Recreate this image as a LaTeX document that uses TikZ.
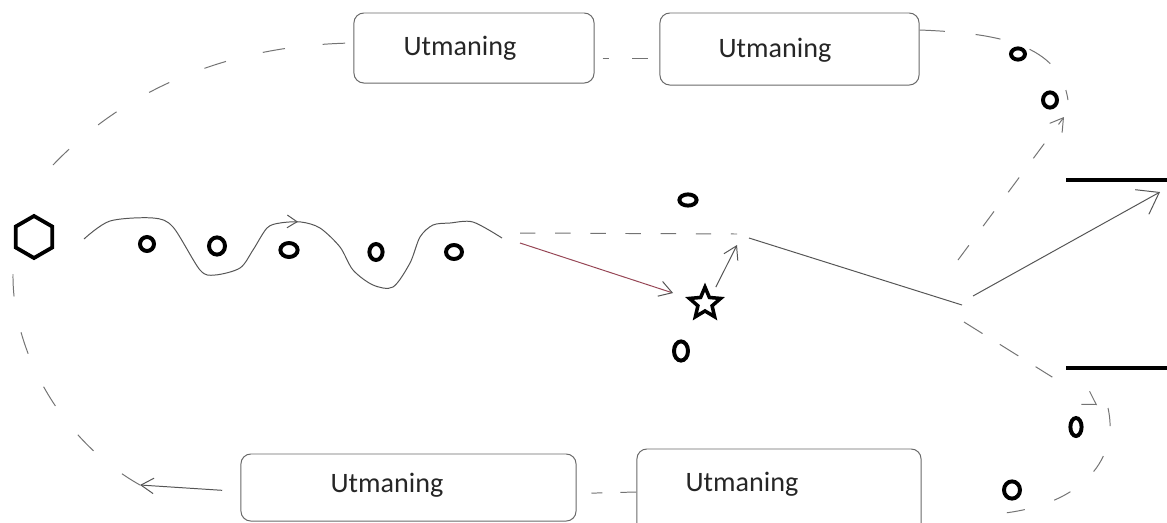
\documentclass[tikz,border=0pt]{standalone}
\usepackage{fontspec}
\setmainfont{Carlito}
\usepackage{tikz}
\usetikzlibrary{arrows.meta, shapes.geometric, calc, decorations.markings}
\definecolor{pathgray}{RGB}{85,85,85}
\definecolor{dashgray}{RGB}{115,115,115}
\definecolor{boxgray}{RGB}{105,105,105}
\definecolor{redline}{RGB}{150,70,85}

\begin{document}
\begin{tikzpicture}[
    x=0.025cm, y=-0.025cm,
    box/.style={draw=boxgray, line width=0.7pt, rounded corners=7pt, inner sep=0pt},
    boxtext/.style={font=\fontsize{20}{24}\selectfont, text=black!85, inner sep=0pt},
    ring/.style={draw, ellipse, line width=2.8pt, inner sep=0pt},
    connector/.style={draw=pathgray, line width=0.7pt},
    dashline/.style={draw=dashgray, line width=0.7pt, dash pattern=on 16pt off 27pt},
    barb/.style={-{Straight Barb[length=9pt, width=11pt]}},
    wall/.style={line width=2.8pt}
]
    \useasboundingbox (0,0) rectangle (1167,522);
    \clip (0,0) rectangle (1167,522);
    \fill[white] (0,0) rectangle (1167,522);

    % Challenge boxes
    \node[box, minimum width=6cm, minimum height=1.75cm] (b1) at (474,48) {};
    \node[box, minimum width=6.475cm, minimum height=1.8cm] (b2) at (789.5,49) {};
    \node[box, minimum width=8.375cm, minimum height=1.675cm] (b3) at (408.5,487.5) {};
    \node[box, minimum width=7.1cm, minimum height=2.15cm] (b4) at (779,492) {};
    \node[boxtext] (t1) at (460,48) {Utmaning};
    \node[boxtext] (t2) at (775,50) {Utmaning};
    \node[boxtext] (t3) at (387,485) {Utmaning};
    \node[boxtext] (t4) at (742,484) {Utmaning};

    % Start and goal
    \node[draw, regular polygon, regular polygon sides=6, shape border rotate=30,
          minimum size=1.05cm, inner sep=0pt, line width=2.7pt] (hex) at (34,237) {};
    \node[draw, star, star points=5, star point ratio=2.2, minimum size=0.82cm,
          inner sep=0pt, line width=2.5pt] (goal) at (705,303.5) {};

    % Small rings
    \node[ring, minimum width=0.35cm, minimum height=0.35cm] (c1) at (147,244) {};
    \node[ring, minimum width=0.4cm, minimum height=0.43cm] (c2) at (217,246) {};
    \node[ring, minimum width=0.43cm, minimum height=0.35cm] (c3) at (289,250) {};
    \node[ring, minimum width=0.33cm, minimum height=0.4cm] (c4) at (376,252) {};
    \node[ring, minimum width=0.4cm, minimum height=0.35cm] (c5) at (454,252) {};
    \node[ring, minimum width=0.43cm, minimum height=0.28cm] (c6) at (688,200) {};
    \node[ring, minimum width=0.35cm, minimum height=0.48cm] (c7) at (681,351) {};
    \node[ring, minimum width=0.35cm, minimum height=0.28cm] (c8) at (1018,54) {};
    \node[ring, minimum width=0.35cm, minimum height=0.38cm] (c9) at (1050,100) {};
    \node[ring, minimum width=0.28cm, minimum height=0.45cm] (c10) at (1076,427) {};
    \node[ring, minimum width=0.4cm, minimum height=0.43cm] (c11) at (1012,490) {};

    % Free ends
    \coordinate (topstart) at (53,165);
    \coordinate (leftstart) at (13,274);
    \coordinate (loopend) at (140,485);
    \coordinate (waveend) at (502,238);
    \coordinate (redstart) at (520,243);
    \coordinate (dashstart) at (520,233);
    \coordinate (dashend) at (737,234);
    \coordinate (junc) at (737,245);
    \coordinate (bend) at (749,238);
    \coordinate (forkin) at (962,305);
    \coordinate (forkout) at (973,296);
    \coordinate (exit) at (1160,192);
    \coordinate (upstart) at (958,260);
    \coordinate (hightip) at (1064,117);
    \coordinate (downstart) at (964,322);
    \coordinate (lowtip) at (1097,405);
    \coordinate (arcend) at (1068,100);
    \coordinate (lowarc) at (1108,408);
    \coordinate (lowarcend) at (979,515);

    % Walls
    \draw[wall] (1066,180) -- (1167,180);
    \draw[wall] (1066,368) -- (1167,368);

    % Wavy path
    \draw[connector, decoration={markings, mark=at position 0.5 with {\arrow{Straight Barb[length=7pt, width=9pt]}}},
          postaction={decorate}]
        plot[smooth] coordinates {(84,239) (110,221) (153,218) (173,227) (200,270) (215,275) (240,268)
            (253,250) (267,228) (280,223) (301,222) (320,228) (340,247) (353,270) (373,285) (393,287)
            (410,263) (420,237) (433,225) (450,223) (473,222) (waveend)};

    % Outer loop
    \draw[dashline] (topstart) .. controls (120,95) and (220,45) .. ($(b1.west)+(0,-5)$);
    \draw[dashline, dash pattern=on 4.3pt off 17pt on 10.7pt off 40pt, dash phase=66.3pt]
        ($(b1.east)+(0,10)$) -- ($(b2.west)+(0,9)$);
    \draw[dashline, dash pattern=on 18pt off 22pt] ($(b2.east)+(0,-19)$) .. controls (1000,33) and (1060,45) .. (arcend);
    \draw[dashline, dash pattern=on 13pt off 22pt] (lowarc) .. controls (1120,460) and (1080,512) .. (lowarcend);
    \draw[dashline, dash pattern=on 11.4pt off 12.8pt on 7.8pt off 40pt]
        (b4.west) -- ($(b3.east)+(0,6)$);
    \draw[connector, barb, shorten <=13pt] ($(b3.west)+(0,4)$) -- (loopend);
    \draw[dashline, dash pattern=on 16pt off 26pt] (leftstart) .. controls (12,350) and (60,440) .. (loopend);

    % Middle routes
    \draw[dashline, dash pattern=on 11pt off 14pt] (dashstart) -- (dashend);
    \draw[draw=redline, line width=0.7pt, -{Straight Barb[length=9pt, width=11pt, color=pathgray]}]
        (redstart) -- ($(goal.162)+(-12,-4)$);
    \draw[connector, barb, shorten <=7pt] (goal.50) -- (junc);
    \draw[connector] (bend) -- (forkin);
    \draw[connector, -{Straight Barb[length=14pt, width=20pt]}] (forkout) -- (exit);
    \draw[dashline, barb, dash pattern=on 13pt off 17pt] (upstart) -- (hightip);
    \draw[dashline, barb, dash pattern=on 15.5pt off 14.5pt on 15.5pt off 14.5pt on 14pt off 60pt]
        (downstart) -- (lowtip);
\end{tikzpicture}
\end{document}
